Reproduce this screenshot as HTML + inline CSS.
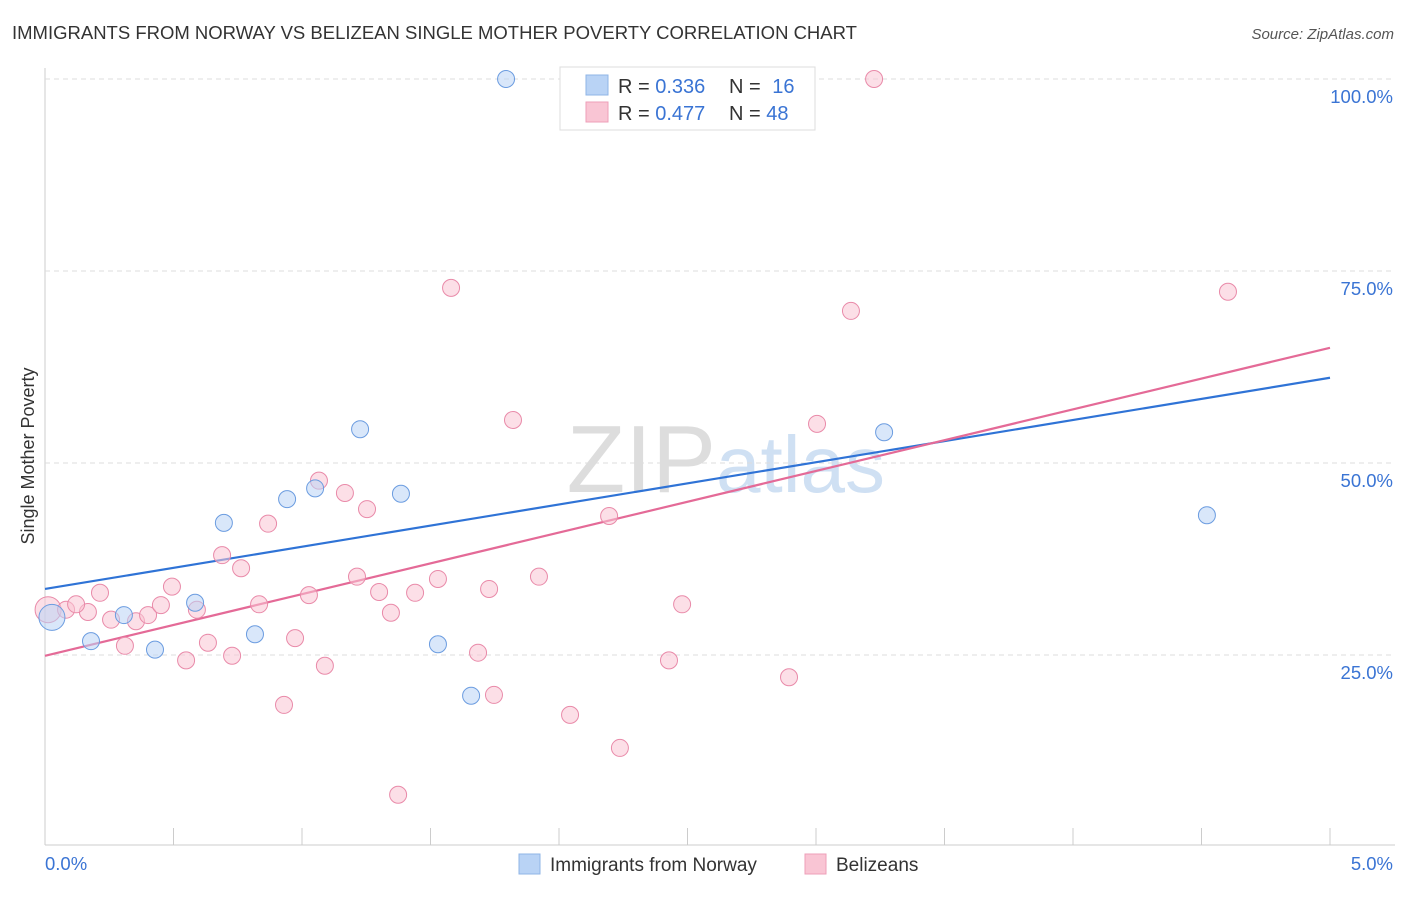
<!DOCTYPE html>
<html><head><meta charset="utf-8"><style>
body{margin:0;background:#fff;font-family:"Liberation Sans",sans-serif;}
svg text{font-family:"Liberation Sans",sans-serif;}
</style></head><body>
<svg id="chart" width="1406" height="892">
<text x="12" y="39" font-size="18.5" fill="#333">IMMIGRANTS FROM NORWAY VS BELIZEAN SINGLE MOTHER POVERTY CORRELATION CHART</text>
<text x="1394" y="39" font-size="15" fill="#555" font-style="italic" text-anchor="end">Source: ZipAtlas.com</text>
<text x="716" y="492" font-size="96" fill="#ddd" text-anchor="end" font-family="Liberation Serif">ZIP</text>
<text x="716" y="492" font-size="80" fill="#cfe0f3">atlas</text>
<text transform="translate(34,456) rotate(-90)" font-size="18" fill="#333" text-anchor="middle">Single Mother Poverty</text>
<g id="grid"></g><g id="ticks"></g><g id="lines"></g><g id="pts"></g>
<g>
<rect x="560" y="67" width="255" height="63" fill="#fff" stroke="#ddd"/>
<rect x="586" y="75" width="22" height="20" fill="#b9d3f5" stroke="#8fb4e6"/>
<rect x="586" y="102" width="22" height="20" fill="#f9c5d4" stroke="#ee9fb8"/>
<text x="618" y="93" font-size="20" fill="#333">R = <tspan fill="#3a74d4">0.336</tspan></text>
<text x="729" y="93" font-size="20" fill="#333">N = <tspan fill="#3a74d4" dx="6">16</tspan></text>
<text x="618" y="120" font-size="20" fill="#333">R = <tspan fill="#3a74d4">0.477</tspan></text>
<text x="729" y="120" font-size="20" fill="#333">N = <tspan fill="#3a74d4">48</tspan></text>
</g>
<g>
<rect x="519" y="854" width="21" height="20" fill="#b9d3f5" stroke="#8fb4e6"/>
<text x="550" y="871" font-size="19" fill="#333">Immigrants from Norway</text>
<rect x="805" y="854" width="21" height="20" fill="#f9c5d4" stroke="#ee9fb8"/>
<text x="836" y="871" font-size="19" fill="#333">Belizeans</text>
</g>
</svg>
<script>
const blueX=[0.027,0.179,0.307,0.428,0.584,0.696,0.817,0.942,1.051,1.226,1.385,1.529,1.658,1.794,3.265,4.521];
const blueY=[29.9,26.8,30.2,25.7,31.8,42.2,27.7,45.3,46.7,54.4,46.0,26.4,19.7,100,54.0,43.2];
const pinkX=[0.012,0.082,0.167,0.214,0.121,0.257,0.311,0.354,0.401,0.451,0.494,0.549,0.591,0.634,0.689,0.728,0.763,0.833,0.868,0.930,0.973,1.027,1.066,1.089,1.167,1.214,1.253,1.300,1.346,1.374,1.440,1.529,1.580,1.685,1.728,1.747,1.821,1.922,2.043,2.195,2.237,2.428,2.479,2.895,3.004,3.136,3.226,4.603];
const pinkY=[30.9,30.9,30.6,33.1,31.6,29.6,26.2,29.4,30.2,31.5,33.9,24.3,30.9,26.6,38.0,24.9,36.3,31.6,42.1,18.5,27.2,32.8,47.7,23.6,46.1,35.2,44.0,33.2,30.5,6.8,33.1,34.9,72.8,25.3,33.6,19.8,55.6,35.2,17.2,43.1,12.9,24.3,31.6,22.1,55.1,69.8,100,72.3];
const blueTrend=[33.6,61.1];
const pinkTrend=[24.9,65.0];
const yTicks=[25,50,75,100];
const yTickLabels=["25.0%","50.0%","75.0%","100.0%"];
const xTicks=[0,0.5,1,1.5,2,2.5,3,3.5,4,4.5,5];
const xs=v=>45+v/5*1285, ys=v=>847-v/100*768;
const NS="http://www.w3.org/2000/svg";
function mk(p,t,a){const e=document.createElementNS(NS,t);for(const k in a)e.setAttribute(k,a[k]);document.getElementById(p).appendChild(e);return e;}
let ax=mk('grid','line',{x1:45,y1:68,x2:45,y2:845,stroke:'#ccc'});


ax=mk('grid','line',{x1:45,y1:845,x2:1395,y2:845,stroke:'#ccc'});


yTicks.forEach((v,i)=>{
 const g=mk('grid','line',{x1:45,y1:ys(v),x2:1395,y2:ys(v),stroke:'#ddd','stroke-dasharray':'5,4'});
 
 
 const t=mk('grid','text',{x:1393,y:ys(v)+24,'font-size':18.5,fill:'#3a74d4','text-anchor':'end'});
 t.textContent=yTickLabels[i];
 
 
});
xTicks.forEach(v=>{
 const l=mk('ticks','line',{x1:xs(v),y1:828,x2:xs(v),y2:845,stroke:'#ccc'});
 
 
});
let t=mk('ticks','text',{x:45,y:870,'font-size':18.5,fill:'#3a74d4'});t.textContent='0.0%';


t=mk('ticks','text',{x:1393,y:870,'font-size':18.5,fill:'#3a74d4','text-anchor':'end'});t.textContent='5.0%';


function pts(X,Y,fill,stroke,name){X.forEach((x,i)=>{
 const r=i==0?13:8.5;
 const c=mk('pts','circle',{cx:xs(x),cy:ys(Y[i]),r:r,fill:fill,stroke:stroke,'stroke-width':1,'fill-opacity':0.55});
 
 
});}
pts(pinkX,pinkY,'#f9c5d4','#e98aa9','pink-point');
pts(blueX,blueY,'#b9d3f5','#6b9ce0','blue-point');
let tl=mk('lines','line',{x1:xs(0),y1:ys(blueTrend[0]),x2:xs(5),y2:ys(blueTrend[1]),stroke:'#2f73d6','stroke-width':2.2});


tl=mk('lines','line',{x1:xs(0),y1:ys(pinkTrend[0]),x2:xs(5),y2:ys(pinkTrend[1]),stroke:'#e46a97','stroke-width':2.2});


</script>
</body></html>
